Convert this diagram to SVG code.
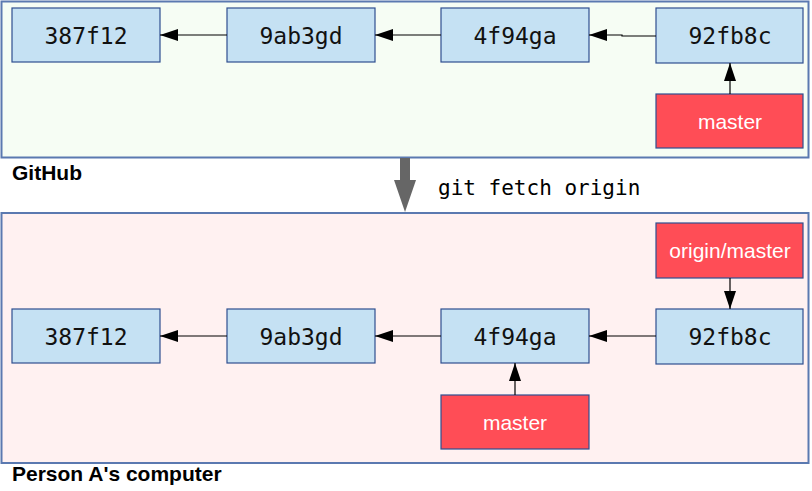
<svg xmlns="http://www.w3.org/2000/svg" width="812" height="491" viewBox="0 0 812 491">
<defs>
<style>
.cont{stroke:#5b79b0;stroke-width:2}
.commit rect{fill:#c5e1f3;stroke:#2f4f8f;stroke-width:1.2}
.commit text{font-family:"DejaVu Sans Mono",monospace;font-size:23px;fill:#111;text-anchor:middle}
.branch rect{fill:#ff4d56;stroke:#2f4f8f;stroke-width:1.2}
.branch text{font-family:"Liberation Sans",Arial,sans-serif;font-size:21px;fill:#fff;text-anchor:middle}
.lbl{font-family:"Liberation Sans",Arial,sans-serif;font-size:21px;font-weight:bold;fill:#000}
.conn line,.conn path{stroke:#000;stroke-width:1.2;fill:none;marker-end:url(#ah)}
</style>
<marker id="ah" viewBox="0 0 18 12" refX="18" refY="6" markerWidth="18" markerHeight="12" markerUnits="userSpaceOnUse" orient="auto">
<path d="M0,0 L18,6 L0,12 Z" fill="#000"/>
</marker>
</defs>
<g id="github">
<rect class="cont" x="1.5" y="1.5" width="807" height="156" fill="#f6fdf4"/>
<text class="lbl" x="12" y="180">GitHub</text>
</g>
<g id="local">
<rect class="cont" x="1.5" y="213" width="807" height="250" fill="#fff1f1"/>
<text class="lbl" x="12" y="481">Person A's computer</text>
</g>
<g id="fetch">
<rect x="400" y="158" width="10" height="24" fill="#666"/>
<path d="M394,180 L416,180 L405,212 Z" fill="#666"/>
<text x="438" y="195" font-family="DejaVu Sans Mono,monospace" font-size="21" fill="#000">git fetch origin</text>
</g>
<g id="t387f12" class="commit"><rect x="12" y="8" width="148" height="54"/><text x="86" y="44">387f12</text></g>
<g id="t9ab3gd" class="commit"><rect x="227" y="8" width="148" height="54"/><text x="301" y="44">9ab3gd</text></g>
<g id="t4f94ga" class="commit"><rect x="441" y="8" width="148" height="54"/><text x="515" y="44">4f94ga</text></g>
<g id="t92fb8c" class="commit"><rect x="656" y="8" width="147" height="55"/><text x="730" y="44">92fb8c</text></g>
<g id="tmaster" class="branch"><rect x="656" y="94" width="147" height="54"/><text x="730" y="129">master</text></g>
<g id="b387f12" class="commit"><rect x="12" y="309" width="148" height="54"/><text x="86" y="345">387f12</text></g>
<g id="b9ab3gd" class="commit"><rect x="227" y="309" width="148" height="54"/><text x="301" y="345">9ab3gd</text></g>
<g id="b4f94ga" class="commit"><rect x="441" y="309" width="148" height="54"/><text x="515" y="345">4f94ga</text></g>
<g id="b92fb8c" class="commit"><rect x="656" y="309" width="147" height="55"/><text x="730" y="345">92fb8c</text></g>
<g id="borigin" class="branch"><rect x="656" y="223" width="147" height="55"/><text x="730" y="258">origin/master</text></g>
<g id="bmaster" class="branch"><rect x="441" y="395" width="148" height="54"/><text x="515" y="430">master</text></g>
<g id="connectors" class="conn">
<line x1="227" y1="35" x2="160" y2="35"/>
<line x1="441" y1="35" x2="375" y2="35"/>
<path d="M656,36 L622,36 L622,35 L589,35"/>
<line x1="730" y1="94" x2="730" y2="63"/>
<line x1="227" y1="336" x2="160" y2="336"/>
<line x1="441" y1="336" x2="375" y2="336"/>
<line x1="656" y1="336" x2="589" y2="336"/>
<line x1="730" y1="278" x2="730" y2="309"/>
<line x1="515" y1="395" x2="515" y2="363"/>
</g>
</svg>
